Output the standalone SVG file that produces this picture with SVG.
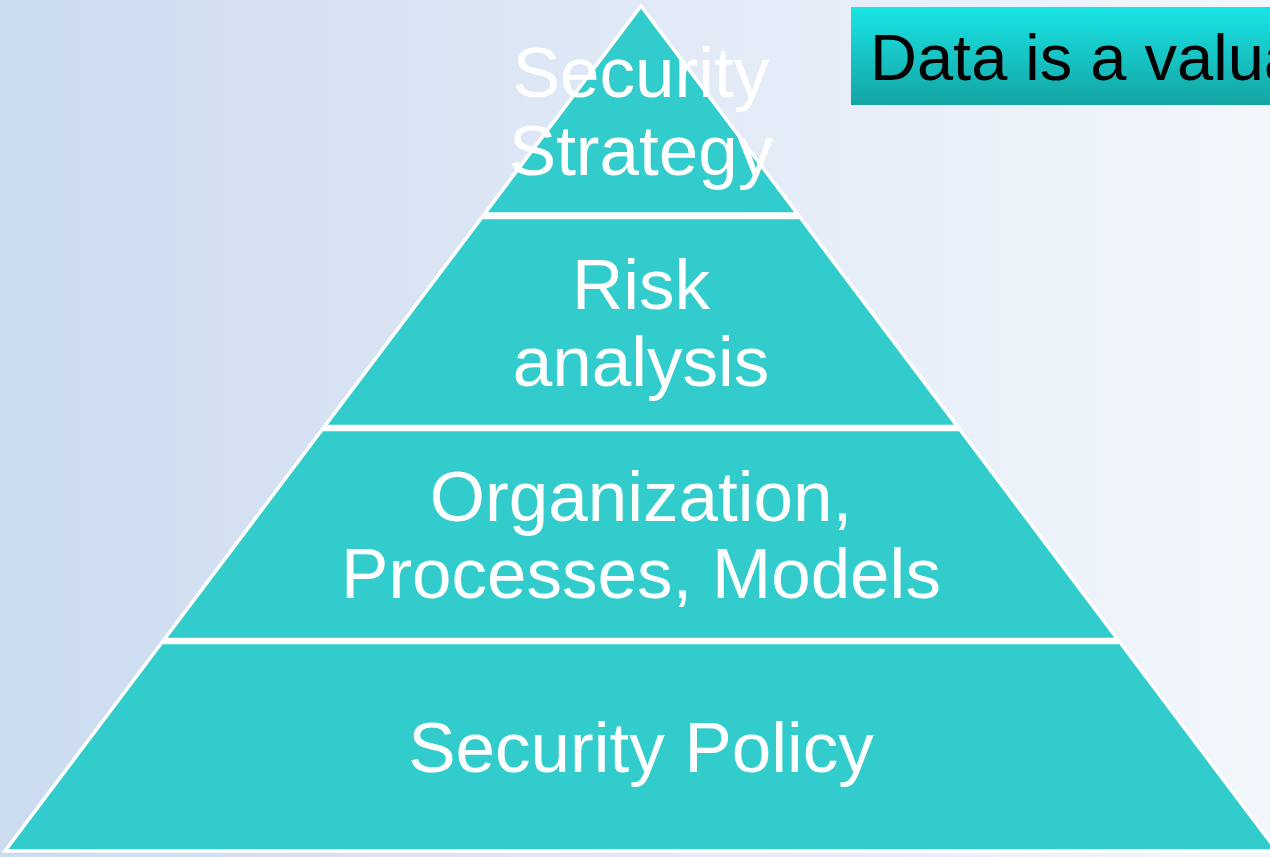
<svg xmlns="http://www.w3.org/2000/svg" width="1270" height="857" viewBox="0 0 1270 857">
  <defs>
    <linearGradient id="bg" x1="0" y1="0" x2="1" y2="0">
      <stop offset="0" stop-color="#cbdbf0"/>
      <stop offset="0.5" stop-color="#e0e9f6"/>
      <stop offset="1" stop-color="#f3f7fc"/>
    </linearGradient>
    <linearGradient id="box" x1="0" y1="0" x2="0" y2="1">
      <stop offset="0" stop-color="#1ae4e4"/>
      <stop offset="1" stop-color="#14a4a4"/>
    </linearGradient>
    <style>
      .layer { fill: #33cccc; stroke: #ffffff; stroke-width: 3.5; stroke-linejoin: miter; }
      .lbl { font-family: "Liberation Sans", Arial, sans-serif; font-size: 71px; fill: #ffffff; text-anchor: middle; }
      .note { font-family: "Liberation Sans", Arial, sans-serif; font-size: 65px; fill: #000000; }
    </style>
  </defs>
  <rect x="0" y="0" width="1270" height="857" fill="url(#bg)"/>

  <g id="layer-strategy">
    <polygon class="layer" points="641,6 797.6,214 484.4,214"/>
  </g>
  <g id="layer-risk">
    <polygon class="layer" points="481.8,217.5 800.2,217.5 957.5,426.5 324.5,426.5"/>
  </g>
  <g id="layer-organization">
    <polygon class="layer" points="322.2,429.5 959.8,429.5 1117.8,639.5 164.2,639.5"/>
  </g>
  <g id="layer-policy">
    <polygon class="layer" points="161.9,642.5 1120.1,642.5 1277,851 5,851"/>
  </g>

  <g id="labels">
    <text class="lbl" x="641" y="97">Security</text>
    <text class="lbl" x="641" y="175">Strategy</text>
    <text class="lbl" x="641" y="309">Risk</text>
    <text class="lbl" x="641" y="386">analysis</text>
    <text class="lbl" x="641" y="521">Organization,</text>
    <text class="lbl" x="641" y="598">Processes, Models</text>
    <text class="lbl" x="641" y="772">Security Policy</text>
  </g>

  <g id="note-box">
    <rect x="851" y="7" width="430" height="98" fill="url(#box)"/>
    <text class="note" x="870" y="80">Data is a valua</text>
  </g>

  <g id="connectors"></g>
</svg>
